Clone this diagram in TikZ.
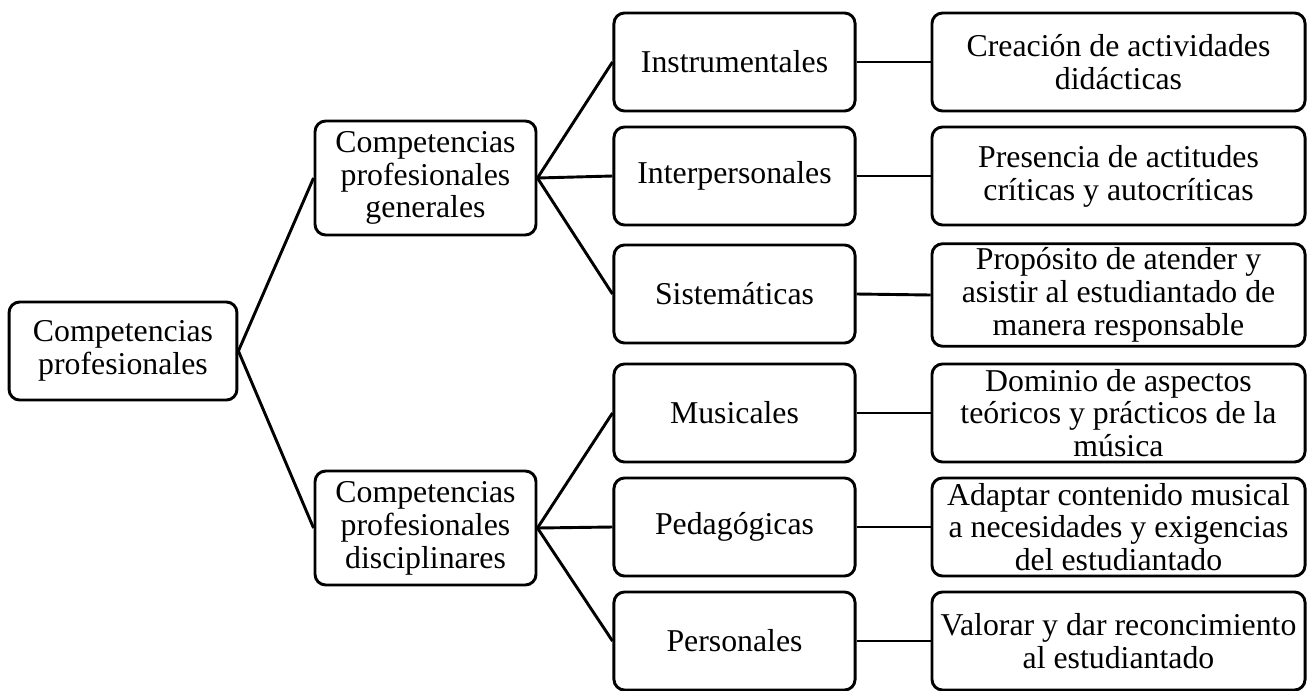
\documentclass[tikz,border=0pt]{standalone}
\usepackage{fontspec}
\setmainfont{Liberation Serif}
\usetikzlibrary{positioning}

\begin{document}
\begin{tikzpicture}[x=0.3774pt,y=-0.3774pt,
    caja/.style={draw,line width=1.1pt,rounded corners=4pt,align=center,inner sep=1.5pt,
      font=\fontsize{12}{12.4}\selectfont,minimum height=37pt},
    raiz/.style={caja,minimum width=86pt},
    grupo/.style={caja,minimum width=83.4pt,minimum height=43pt},
    tipo/.style={caja,minimum width=91pt},
    desc/.style={caja,minimum width=140.8pt},
    rama/.style={line width=1.1pt}]
    \useasboundingbox(0,0)rectangle(1307,690);
    \node[raiz](root)at(123,351){Competencias\\profesionales};
    \node[grupo](gen)at(425.5,178){Competencias\\profesionales\\generales};
    \node[grupo](dis)at(425.5,528){Competencias\\profesionales\\disciplinares};
    % tipos de competencia
    \node[tipo](ins)at(734.5,62){Instrumentales};
    \node[tipo](int)at(734.5,176){Interpersonales};
    \node[tipo](sis)at(734.5,294){Sistemáticas};
    \node[tipo](mus)at(734.5,413){Musicales};
    \node[tipo](ped)at(734.5,527){Pedagógicas};
    \node[tipo](per)at(734.5,641){Personales};
    % descripciones
    \node[desc](cre)at(1118.5,62){Creación de actividades\\didácticas};
    \node[desc](pre)at(1118.5,176){Presencia de actitudes\\críticas y autocríticas};
    \node[desc](pro)at(1118.5,295){Propósito de atender y\\asistir al estudiantado de\\manera responsable};
    \node[desc](dom)at(1118.5,413){Dominio de aspectos\\teóricos y prácticos de la\\música};
    \node[desc](ada)at(1118.5,527){Adaptar contenido musical\\a necesidades y exigencias\\del estudiantado};
    \node[desc](val)at(1118.5,641){Valorar y dar reconcimiento\\al estudiantado};
    \draw[rama](root.east)--(gen.west);\draw[rama](root.east)--(dis.west);
    \foreach \t in {ins,int,sis}\draw[rama](gen.east)--(\t.west);
    \foreach \t in {mus,ped,per}\draw[rama](dis.east)--(\t.west);
    \foreach \t/\d in {ins/cre,int/pre,sis/pro,mus/dom,ped/ada,per/val}\draw[rama](\t.east)--(\d.west);
  \end{tikzpicture}
\end{document}
